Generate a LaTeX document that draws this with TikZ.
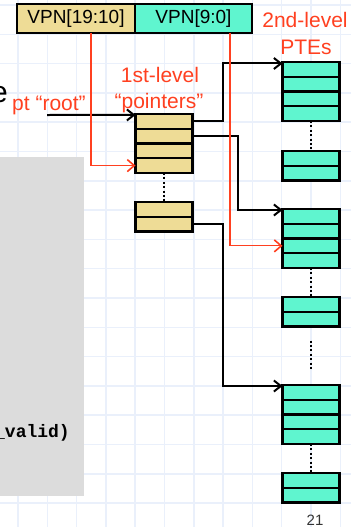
\documentclass[tikz,border=0pt]{standalone}
\usepackage{fontspec}
\setmainfont{Liberation Sans}
\setmonofont{Liberation Mono}
\usetikzlibrary{positioning,arrows.meta,calc}
\definecolor{slidered}{HTML}{FF4020}
\definecolor{ptrtan}{HTML}{EEDC96}
\definecolor{ptegreen}{HTML}{5FF5CF}
\definecolor{gridblue}{HTML}{EAF0FB}
\definecolor{codegray}{HTML}{DCDCDC}

\begin{document}
\begin{tikzpicture}[x=1pt,y=-1pt,
    row/.style={draw,line width=2.2pt,minimum width=57pt,minimum height=14.75pt,inner sep=0pt,outer sep=0pt},
    ptr/.style={row,fill=ptrtan},
    pte/.style={row,fill=ptegreen},
    field/.style={draw,line width=2.2pt,minimum height=29pt,inner sep=0pt,outer sep=0pt,font=\fontsize{19}{22}\selectfont},
    link/.style={line width=2pt,-{Straight Barb[length=7pt,width=11pt]}},
    idx/.style={slidered,line width=1.2pt,-{Straight Barb[length=7pt,width=12pt,line width=1.6pt]}},
    more/.style={line width=2pt,dash pattern=on 2pt off 2.4pt},
    lbl/.style={text=slidered,font=\fontsize{21}{24}\selectfont,inner sep=0pt}]
  \useasboundingbox (0,0) rectangle (351,527);
  % background grid
  \foreach \k in {0,...,11} \draw[gridblue,line width=1.5pt] (18+29.3*\k,0) -- (18+29.3*\k,527);
  \foreach \k in {0,...,17} \draw[gridblue,line width=1.5pt] (0,5+29.3*\k) -- (351,5+29.3*\k);
  % code box and slide text
  \fill[codegray] (0,157) rectangle (84,496);
  \node[font=\ttfamily\bfseries\fontsize{18}{20}\selectfont,anchor=base east,inner sep=0pt] (code) at (70,437) {\_valid)};
  \node[font=\fontsize{30}{34}\selectfont,anchor=base east,inner sep=0pt] (word) at (8,102) {e};
  % virtual page number
  \node[field,fill=ptrtan,minimum width=118pt] (vpnhi) at (76,18.5) {VPN[19:10]};
  \node[field,fill=ptegreen,minimum width=117pt,right=0pt of vpnhi] (vpnlo) {VPN[9:0]};
  % 1st-level table
  \foreach \i in {1,...,4} \node[ptr] (a\i) at (164,106.6+14.75*\i) {};
  \foreach \i in {1,2} \node[ptr] (b\i) at (164,194.6+14.75*\i) {};
  \draw[more] (a4.south) -- (b1.north);
  % 2nd-level tables
  \foreach \t/\top in {1/62,2/209,3/385}{
    \foreach \i in {1,...,4} \node[pte] (t\t-\i) at (311,{\top+14.75*\i-7.375}) {};
  }
  \foreach \t/\top in {1/151,2/297,3/473}{
    \foreach \i in {1,2} \node[pte] (s\t-\i) at (311,{\top+14.75*\i-7.375}) {};
  }
  \draw[more] (t1-4.south) -- (s1-1.north);
  \draw[more] (t2-4.south) -- (s2-1.north);
  \draw[more] ([yshift=-14pt]s2-2.south) -- ([yshift=15pt]t3-1.north);
  \draw[more] (t3-4.south) -- (s3-1.north);
  % pointers
  \coordinate (root) at (47,115);
  \draw[link] (root) -- ([yshift=-1pt]a1.north west);
  \draw[link] (a1.east) -- ++(30,0) |- ([yshift=-1.5pt]t1-1.north west);
  \draw[link] (a2.east) -- ++(45,0) |- ([yshift=-1pt]t2-1.north west);
  \draw[link] (b2.east) -- ++(30,0) |- ([yshift=-1pt]t3-1.north west);
  % index lines
  \draw[idx] ([xshift=15pt]vpnhi.south) |- (a4.west);
  \draw[idx] ([xshift=36.5pt]vpnlo.south) |- (t2-3.west);
  % labels
  \node[lbl,anchor=base] (lvl2) at (305,28) {2nd-level};
  \node[lbl,anchor=base] (ptes) at (306,55) {PTEs};
  \node[lbl,anchor=base] (lvl1) at (160,82) {1st-level};
  \node[lbl,anchor=base] (ptrs) at (159,108) {“pointers”};
  \node[lbl,anchor=base west] (rootlbl) at (12,110) {pt “root”};
  \node[font=\fontsize{15}{17}\selectfont,text=black!80,anchor=base,inner sep=0pt] (pagenum) at (315,525) {21};
\end{tikzpicture}
\end{document}
